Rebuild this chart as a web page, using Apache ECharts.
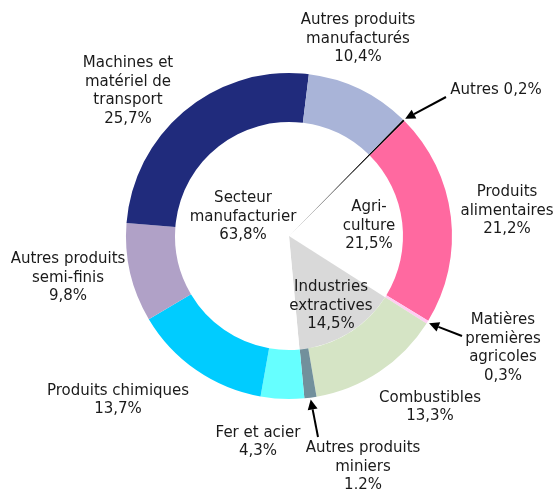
<!DOCTYPE html>
<html>
<head>
<meta charset="utf-8">
<script src="https://cdn.jsdelivr.net/npm/echarts@6/dist/echarts.min.js"></script>
<style>
  html, body { margin: 0; padding: 0; background: #fff; }
  #chart { width: 554px; height: 489px; }
</style>
</head>
<body>
<div id="chart"></div>
<script>
// anneau extérieur : produits
var outerNames = ['Autres', 'Produits\nalimentaires', 'Matières\npremières\nagricoles', 'Combustibles',
    'Autres produits\nminiers', 'Fer et acier', 'Produits chimiques', 'Autres produits\nsemi-finis',
    'Machines et\nmatériel de\ntransport', 'Autres produits\nmanufacturés'];
var outerValues = [0.2, 21.2, 0.3, 13.3, 1.2, 4.3, 13.7, 9.8, 25.7, 10.4];
// disque intérieur : secteurs
var innerNames = ['Autres', 'Agri-\nculture', 'Industries\nextractives', 'Secteur\nmanufacturier'];
var innerValues = [0.2, 21.5, 14.5, 63.8];

var outerColors = ['#000000', '#ff69a0', '#ffcdf3', '#d5e4c5', '#72909c', '#66ffff', '#00ccff', '#b0a1c7', '#202b7c', '#a9b4d8'];
var innerColors = ['#000000', '#ffffff', '#d9d9d9', '#ffffff'];

// position des étiquettes
var outerLabelPos = [[496, 89], [507, 210], [503, 347], [430, 406], [363, 466], [258, 441], [118, 399], [68, 277], [128, 90], [358, 38]];
var innerLabelPos = [[0, 0], [369, 226], [331, 306], [243, 217]];
// flèches : [index anneau, départ x, départ y]
var arrows = [[0, 446, 97], [2, 462, 336], [4, 318, 437]];

var cx = 289, cy = 236, r0 = 114, r1 = 163, startAngle = 45.6;

function pct(v) {
    return v.toFixed(1).replace('.', ',') + '%';
}

var myChart = echarts.init(document.getElementById('chart'));

// pointes des flèches calculées à partir des données
var total = outerValues.reduce(function (a, b) { return a + b; }, 0);
var graphics = [];
arrows.forEach(function (a) {
    var cum = 0;
    for (var i = 0; i < a[0]; i++) cum += outerValues[i];
    var ang = (startAngle - (cum + outerValues[a[0]] / 2) / total * 360) * Math.PI / 180;
    var tx = cx + (r1 + 2) * Math.cos(ang), ty = cy - (r1 + 2) * Math.sin(ang);
    var dx = tx - a[1], dy = ty - a[2], len = Math.sqrt(dx * dx + dy * dy);
    var ux = dx / len, uy = dy / len;
    var bx = tx - ux * 10, by = ty - uy * 10;
    graphics.push({
        type: 'line', silent: true,
        shape: { x1: a[1], y1: a[2], x2: bx, y2: by },
        style: { stroke: '#000', lineWidth: 2 }
    });
    graphics.push({
        type: 'polygon', silent: true,
        shape: { points: [[tx, ty], [bx - uy * 5, by + ux * 5], [bx + uy * 5, by - ux * 5]] },
        style: { fill: '#000' }
    });
});

var labelStyle = {
    fontFamily: 'DejaVu Sans',
    fontSize: 15,
    lineHeight: 18.5,
    color: '#1a1a1a',
    align: 'center',
    overflow: 'none'
};

myChart.setOption({
    animation: false,
    color: outerColors,
    graphic: graphics,
    series: [{
        type: 'pie',
        center: [cx, cy],
        radius: [0, r0],
        startAngle: startAngle,
        silent: true,
        data: innerNames.map(function (n, i) {
            return {
                name: n, value: innerValues[i],
                itemStyle: { color: innerColors[i] },
                label: { show: i > 0 }
            };
        }),
        label: Object.assign({
            position: 'inside',
            formatter: function (p) { return p.name + '\n' + pct(p.value); }
        }, labelStyle),
        labelLine: { show: false },
        labelLayout: function (p) {
            var pos = innerLabelPos[p.dataIndex];
            return { x: pos[0], y: pos[1], align: 'center', verticalAlign: 'middle' };
        }
    }, {
        type: 'pie',
        center: [cx, cy],
        radius: [r0, r1],
        startAngle: startAngle,
        silent: true,
        data: outerNames.map(function (n, i) {
            return { name: n, value: outerValues[i], itemStyle: { color: outerColors[i] } };
        }),
        label: Object.assign({
            position: 'outside',
            formatter: function (p) {
                return p.name + (p.dataIndex === 0 ? ' ' : '\n') + pct(p.value);
            }
        }, labelStyle),
        labelLine: { show: false },
        labelLayout: function (p) {
            var pos = outerLabelPos[p.dataIndex];
            return { x: pos[0], y: pos[1] + 1, align: 'center', verticalAlign: 'middle' };
        }
    }]
});
</script>
</body>
</html>
